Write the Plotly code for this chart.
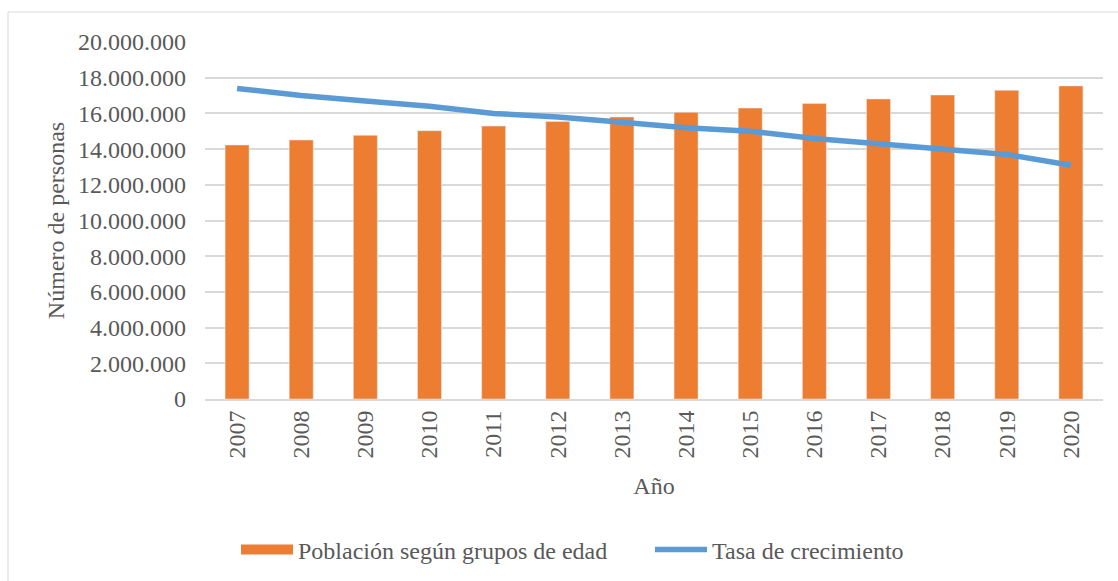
import plotly.graph_objects as go

years = ["2007", "2008", "2009", "2010", "2011", "2012", "2013",
         "2014", "2015", "2016", "2017", "2018", "2019", "2020"]
poblacion = [14230000, 14510000, 14770000, 15030000, 15290000, 15550000, 15800000,
             16060000, 16300000, 16550000, 16810000, 17030000, 17290000, 17540000]
tasa = [0.0174, 0.0170, 0.0167, 0.0164, 0.0160, 0.0158, 0.0155,
        0.0152, 0.0150, 0.0146, 0.0143, 0.0140, 0.0137, 0.0131]

bar_name = "Población según grupos de edad"
line_name = "Tasa de crecimiento"

ORANGE = "#ED7D31"
BLUE = "#5B9BD5"
TXT = "#595959"
GRID = "#D9D9D9"
FONT = "Liberation Serif"

fig = go.Figure()
fig.add_trace(go.Bar(x=years, y=poblacion, name=bar_name, marker_color=ORANGE,
                     showlegend=False))
fig.add_trace(go.Scatter(x=years, y=tasa, name=line_name, mode="lines",
                         line=dict(color=BLUE, width=5.5), yaxis="y2", showlegend=False))
# legend entries
fig.add_trace(go.Scatter(x=[None], y=[None], name=bar_name, mode="lines",
                         line=dict(color=ORANGE, width=13)))
fig.add_trace(go.Scatter(x=[None], y=[None], name=line_name, mode="lines",
                         line=dict(color=BLUE, width=5.5)))

W, H = 1118, 581
L, R, T, B = 205, 1103, 42, 399
pw, ph = R - L, B - T

def px(x):
    return (x - L) / pw

def py(y):
    return (B - y) / ph

fig.update_layout(
    width=W, height=H, autosize=False,
    margin=dict(l=L, r=W - R, t=T, b=H - B, pad=0, autoexpand=False),
    paper_bgcolor="white", plot_bgcolor="white",
    separators=",.",
    font=dict(family=FONT, size=24, color=TXT),
    bargap=0.626,
    showlegend=True,
    legend=dict(orientation="h", xref="container", yref="container",
                x=236 / W, xanchor="left", y=1 - 550 / H, yanchor="middle",
                font=dict(family=FONT, size=24, color=TXT), itemwidth=52,
                entrywidth=347, entrywidthmode="pixels",
                bgcolor="rgba(0,0,0,0)", traceorder="normal"),
    xaxis=dict(type="category", tickangle=-90, showgrid=False, showline=True,
               linecolor=GRID, linewidth=2, ticks="", automargin=False,
               tickfont=dict(size=24, color=TXT),
               title=dict(text="Año", standoff=20, font=dict(size=24, color=TXT))),
    yaxis=dict(range=[0, 20000000], dtick=2000000, tickformat=",d", showgrid=True,
               gridcolor=GRID, gridwidth=2, zeroline=False, showline=False, ticks="",
               automargin=False, ticklabelstandoff=18, tickfont=dict(size=24, color=TXT),
               title=dict(text="Número de personas", standoff=6,
                          font=dict(size=24, color=TXT))),
    yaxis2=dict(range=[0, 0.02], overlaying="y", side="right", visible=False),
    shapes=[dict(type="rect", xref="paper", yref="paper",
                 x0=px(8), x1=px(1130), y0=py(12), y1=py(600),
                 line=dict(color=GRID, width=1), fillcolor="rgba(0,0,0,0)", layer="below")],
)

fig.write_html("out.html", config={"displayModeBar": False},
               post_script="document.body.style.margin='0';document.body.style.overflow='hidden';")
